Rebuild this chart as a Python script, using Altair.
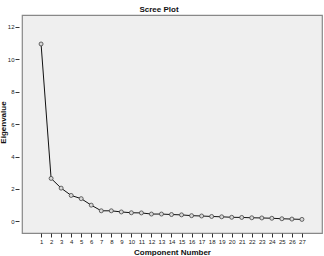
import altair as alt
import pandas as pd

components = list(range(1, 28))
eigenvalues = [10.95, 2.65, 2.05, 1.6, 1.4, 1.0, 0.65, 0.65, 0.58, 0.53, 0.52, 0.45, 0.45,
               0.42, 0.40, 0.35, 0.33, 0.30, 0.28, 0.25, 0.24, 0.22, 0.21, 0.19, 0.16, 0.14, 0.12]
y_ticks = [0, 2, 4, 6, 8, 10, 12]

df = pd.DataFrame({"Component Number": components, "Eigenvalue": eigenvalues})

x = alt.X("Component Number:Q",
          scale=alt.Scale(domain=[-0.9, 29], nice=False, zero=False),
          axis=alt.Axis(values=components, grid=False, domain=False, tickSize=4,
                        tickColor="#333", labelFontSize=6, labelPadding=1,
                        labelColor="#222", labelFont="Liberation Sans",
                        title="Component Number", titleFontSize=8, titleFontWeight="bold",
                        titleFont="Liberation Sans", titlePadding=4, titleColor="#111"))
y = alt.Y("Eigenvalue:Q",
          scale=alt.Scale(domain=[-0.72, 12.74], nice=False, zero=False),
          axis=alt.Axis(values=y_ticks, grid=False, domain=False, tickSize=4, offset=3,
                        tickColor="#333", labelFontSize=6, labelPadding=1,
                        labelColor="#222", labelFont="Liberation Sans",
                        title="Eigenvalue", titleFontSize=8, titleFontWeight="bold",
                        titleFont="Liberation Sans", titleColor="#111",
                        titleX=-16, titleY=107, titleBaseline="middle"))

line = alt.Chart(df).mark_line(color="#111", strokeWidth=1).encode(x=x, y=y)
pts = alt.Chart(df).mark_point(shape="circle", size=16, filled=True, fill="#d8d8d8",
                               stroke="#444", strokeWidth=0.8, opacity=1).encode(x=x, y=y)

chart = (line + pts).properties(
    width=300, height=218,
    background="white",
    title=alt.TitleParams("Scree Plot", fontSize=8, fontWeight="bold",
                          font="Liberation Sans", color="#111", offset=1, dx=-13),
    autosize=alt.AutoSizeParams(type="none"),
    padding={"left": 22, "top": 15, "right": 2, "bottom": 23},
).configure_view(fill="#efefef", stroke="#888", strokeWidth=1.2)

chart.save("out.html", embed_options={"renderer": "svg", "actions": False})
